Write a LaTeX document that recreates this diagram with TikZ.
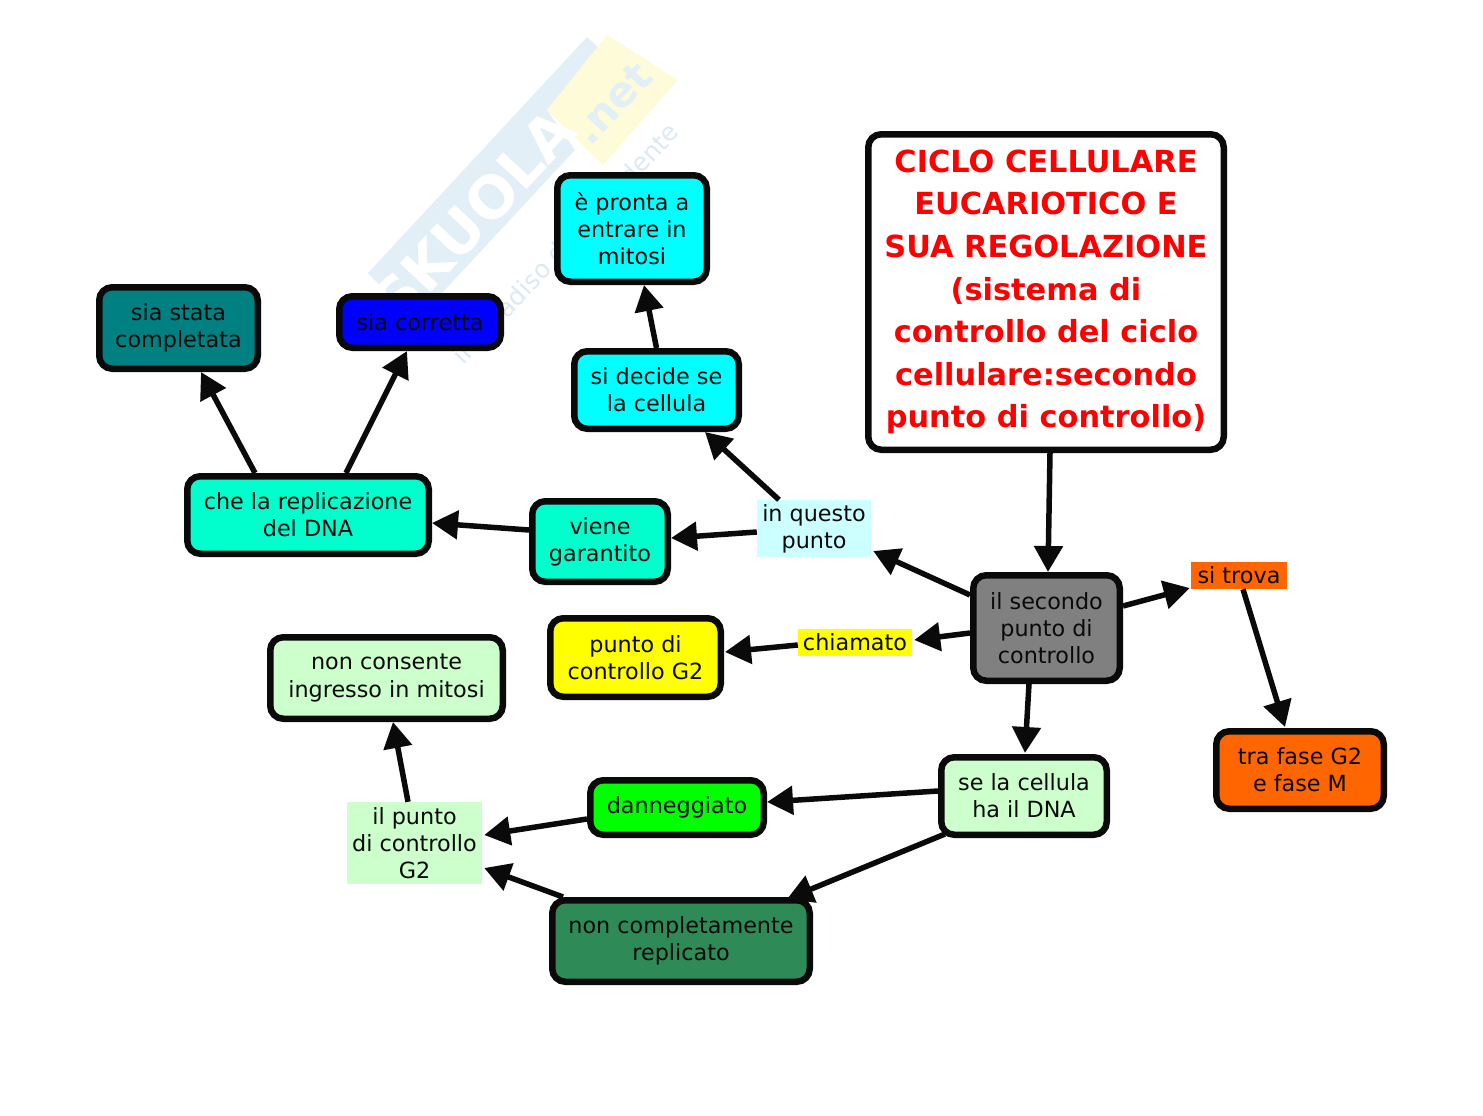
\documentclass[tikz,border=0pt]{standalone}
\usepackage{fontspec}
\setmainfont{DejaVu Sans}
\usetikzlibrary{arrows.meta}
\definecolor{wmblue}{HTML}{E3EFF6}
\definecolor{wmyellow}{HTML}{FDFBD8}
\definecolor{wmtext}{HTML}{DDE9F1}
\definecolor{seagreen}{HTML}{2E8B57}
\definecolor{orangeM}{HTML}{FF6600}
\definecolor{aqua}{HTML}{00FFCC}
\definecolor{paleg}{HTML}{CCFFCC}
\definecolor{palec}{HTML}{CCFFFF}
\definecolor{tealb}{HTML}{008080}
\definecolor{cyanb}{HTML}{00FFFF}
\definecolor{yellowb}{HTML}{FFFF00}
\definecolor{grayb}{HTML}{808080}
\definecolor{inkb}{HTML}{0A0A0A}
\tikzset{
 base/.style={align=center,inner sep=0pt,font=\fontsize{22.3}{27.2}\selectfont,text=inkb},
 box/.style={base,draw=inkb,line width=6.5pt,rounded corners=13pt},
 lab/.style={base},
 arr/.style={draw=inkb,line width=5.5pt,-{Triangle[length=26pt,width=28pt]}},
 wm/.style={text=white,font=\bfseries\fontsize{58}{58}\selectfont,rotate=47,inner sep=0pt},
 titletext/.style={font=\bfseries\fontsize{30.4}{42.6}\selectfont,text=red},
}
% \bx{name}{x0}{y0}{x1}{y1}{style}{text}: outer edges of a bordered box
\newcommand{\bx}[7]{%
 \pgfmathsetmacro\bxw{#4-#2-6.5}\pgfmathsetmacro\bxh{#5-#3-6.5}%
 \pgfmathsetmacro\bxx{(#2+#4)/2}\pgfmathsetmacro\bxy{(#3+#5)/2}%
 \node[box,fill=#6,minimum width=\bxw pt,minimum height=\bxh pt] (#1) at (\bxx,\bxy) {#7};}
\newcommand{\lb}[7]{%
 \pgfmathsetmacro\bxw{#4-#2}\pgfmathsetmacro\bxh{#5-#3}%
 \pgfmathsetmacro\bxx{(#2+#4)/2}\pgfmathsetmacro\bxy{(#3+#5)/2}%
 \node[lab,fill=#6,minimum width=\bxw pt,minimum height=\bxh pt] (#1) at (\bxx,\bxy) {#7};}
\begin{document}
\begin{tikzpicture}[x=1pt,y=-1pt]
\useasboundingbox (0,0) rectangle (1483,1116);
% faint background mark
\fill[wmblue] (368,273) -- (587,37) -- (607,55) -- (547,110) -- (575,150) -- (415,322) -- cycle;
\fill[wmyellow] (607,35) -- (678,80) -- (603,165) -- (547,110) -- cycle;
\node[wm] (wmname) at (474,216) {SKUOLA};
\node[rotate=47,text=wmblue,font=\bfseries\fontsize{42}{42}\selectfont,inner sep=0pt] (wmnet) at (612,103) {.net};
\node[rotate=47,text=wmtext,font=\fontsize{25}{25}\selectfont,inner sep=0pt] (wmsub) at (567,245) {il paradiso dello studente};
% boxes
\bx{title}{865}{131}{1227}{453}{white,titletext}{CICLO CELLULARE\\EUCARIOTICO E\\SUA REGOLAZIONE\\(sistema di\\controllo del ciclo\\cellulare:secondo\\punto di controllo)}
\bx{pronta}{554}{172}{710}{285}{cyanb}{è pronta a\\entrare in\\mitosi}
\bx{decide}{571}{348}{742}{432}{cyanb}{si decide se\\la cellula}
\bx{compl}{96}{284}{261}{372}{tealb}{sia stata\\completata}
\bx{corr}{336}{293}{504}{351}{blue}{sia corretta}
\bx{repl}{184}{473}{432}{557}{aqua}{che la replicazione\\del DNA}
\bx{viene}{529}{498}{671}{585}{aqua}{viene\\garantito}
\bx{sec}{970}{572}{1123}{684}{grayb}{il secondo\\punto di\\controllo}
\bx{gdue}{547}{615}{724}{700}{yellowb}{punto di\\controllo G2}
\bx{nonc}{267}{634}{506}{722}{paleg}{non consente\\ingresso in mitosi}
\bx{sic}{938}{754}{1110}{838}{paleg}{se la cellula\\ha il DNA}
\bx{dan}{587}{777}{767}{838}{green}{danneggiato}
\bx{ncomp}{549}{897}{813}{985}{seagreen}{non completamente\\replicato}
\bx{tra}{1213}{728}{1387}{812}{orangeM}{tra fase G2\\e fase M}
% labels
\lb{inq}{757}{500}{871}{557}{palec}{in questo\\punto}
\lb{chi}{798}{629}{912}{656}{yellowb}{chiamato}
\lb{sit}{1191}{562}{1287}{589}{orangeM}{si trova}
\lb{ilp}{347}{802}{482}{884}{paleg}{il punto\\di controllo\\G2}
% connectors
\draw[arr] ([xshift=4]title.south) -- ([xshift=1.5]sec.north);
\draw[arr] ([yshift=33]sec.west) -- ([xshift=2,yshift=-22.5]inq.east);
\draw[arr] ([xshift=-35]inq.north) -- ([xshift=48.5]decide.south);
\draw[arr] (decide.north) -- ([xshift=12]pronta.south);
\draw[arr] ([yshift=-3.5]inq.west) -- ([yshift=3.5]viene.east);
\draw[arr] ([yshift=11.5]viene.west) -- ([yshift=-8]repl.east);
\draw[arr] ([xshift=-53]repl.north) -- ([xshift=22.5]compl.south);
\draw[arr] ([xshift=38]repl.north) -- ([xshift=-13]corr.south);
\draw[arr] ([yshift=-5]sec.west) -- ([xshift=2,yshift=2.5]chi.east);
\draw[arr] ([yshift=-2.5]chi.west) -- ([xshift=1,yshift=5.5]gdue.east);
\draw[arr] ([yshift=22]sec.east) -- ([xshift=-1,yshift=-12.5]sit.west);
\draw[arr] ([xshift=4]sit.south) -- ([xshift=-15,yshift=1]tra.north);
\draw[arr] ([xshift=-17.5]sec.south) -- ([xshift=1,yshift=1]sic.north);
\draw[arr] ([yshift=5]sic.west) -- ([yshift=5.5]dan.east);
\draw[arr] ([yshift=-11.5]dan.west) -- ([xshift=2,yshift=8]ilp.east);
\draw[arr] ([xshift=7,yshift=4]sic.south west) -- ([xshift=-26,yshift=-2]ncomp.north east);
\draw[arr] ([xshift=14]ncomp.north west) -- ([xshift=2,yshift=-25]ilp.east);
\draw[arr] ([xshift=-6.5]ilp.north) -- ([xshift=6.5]nonc.south);
\end{tikzpicture}
\end{document}
